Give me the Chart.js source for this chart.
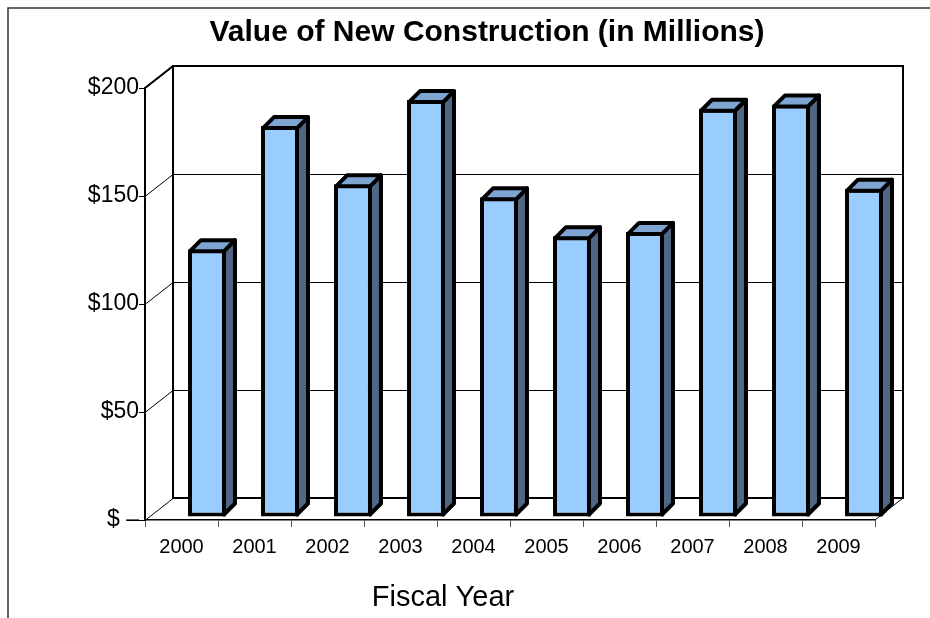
<!DOCTYPE html>
<html>
<head>
<meta charset="utf-8">
<script src="https://cdn.jsdelivr.net/npm/chart.js@4.4.0/dist/chart.umd.min.js"></script>
<style>
  html, body { margin: 0; padding: 0; background: #fff; }
  #wrap { width: 930px; height: 618px; position: relative; }
</style>
</head>
<body>
<div id="wrap"><canvas id="constructionChart"></canvas></div>
<script>
const years = ['2000', '2001', '2002', '2003', '2004', '2005', '2006', '2007', '2008', '2009'];
const values = [124, 181, 154, 193, 148, 130, 132, 189, 191, 152];
const yTickValues = [0, 50, 100, 150, 200];
const yTickLabels = ['$ –', '$50', '$100', '$150', '$200'];

const chartTitle = 'Value of New Construction (in Millions)';
const xTitle = 'Fiscal Year';
const FONT = '"Liberation Sans", Arial, sans-serif';

// how far the back wall sits behind the front plane
const wallDepth = { x: 28, y: -22 };
// bars stand a little behind the front edge of the floor
const barShift = { x: 25.5, y: -3 };
// depth of each column (side and top faces)
const colDepth = { x: 11, y: -11 };

const pseudo3d = {
  id: 'pseudo3d',
  beforeDatasetsDraw(chart) {
    const { ctx, chartArea: a, scales: { y } } = chart;
    const dx = wallDepth.x, dy = wallDepth.y;
    ctx.save();
    ctx.strokeStyle = '#000';

    // gridlines on the back wall plus their diagonals on the side wall
    ctx.lineWidth = 1;
    yTickValues.forEach(v => {
      const py = Math.round(y.getPixelForValue(v)) + 0.5;
      ctx.beginPath();
      ctx.moveTo(a.left, py);
      ctx.lineTo(a.left + dx, py + dy);
      if (v > 0 && v < 200) ctx.lineTo(a.right + dx, py + dy);
      ctx.stroke();
    });
    // floor right diagonal
    ctx.beginPath();
    ctx.moveTo(a.right, a.bottom);
    ctx.lineTo(a.right + dx, a.bottom + dy);
    ctx.stroke();

    // back wall outline
    ctx.lineWidth = 2;
    ctx.strokeRect(a.left + dx, a.top + dy, a.right - a.left, a.bottom - a.top);
    ctx.beginPath();
    ctx.moveTo(a.left, a.top);
    ctx.lineTo(a.left + dx, a.top + dy);
    ctx.stroke();
    ctx.restore();

    ctx.save();
    ctx.translate(barShift.x, barShift.y);
  },
  afterDatasetsDraw(chart) {
    const { ctx } = chart;
    const meta = chart.getDatasetMeta(0);
    ctx.lineWidth = 4;
    ctx.lineJoin = 'round';
    ctx.strokeStyle = '#000';
    meta.data.forEach(bar => {
      const p = bar.getProps(['x', 'y', 'base', 'width'], true);
      const l = p.x - p.width / 2 + 2, r = p.x + p.width / 2 - 2;
      const t = p.y + 2, b = p.base - 2;
      const dx = colDepth.x, dy = colDepth.y;
      // side face
      ctx.fillStyle = '#4f6685';
      ctx.beginPath();
      ctx.moveTo(r, t);
      ctx.lineTo(r + dx, t + dy);
      ctx.lineTo(r + dx, b + dy);
      ctx.lineTo(r, b);
      ctx.closePath();
      ctx.fill();
      ctx.stroke();
      // top face
      ctx.fillStyle = '#7ea5d2';
      ctx.beginPath();
      ctx.moveTo(l, t);
      ctx.lineTo(l + dx, t + dy);
      ctx.lineTo(r + dx, t + dy);
      ctx.lineTo(r, t);
      ctx.closePath();
      ctx.fill();
      ctx.stroke();
    });
    ctx.restore();
  },
  afterDraw(chart) {
    const { ctx } = chart;
    ctx.save();
    // outer frame
    ctx.strokeStyle = '#333';
    ctx.lineWidth = 1.5;
    ctx.beginPath();
    ctx.moveTo(8, 618);
    ctx.lineTo(8, 8);
    ctx.lineTo(930, 8);
    ctx.stroke();

    ctx.fillStyle = '#000';
    ctx.textAlign = 'center';
    ctx.textBaseline = 'middle';
    ctx.font = 'bold 30px ' + FONT;
    ctx.fillText(chartTitle, 487, 33);
    ctx.font = '29px ' + FONT;
    ctx.fillText(xTitle, 443, 598);
    ctx.restore();
  }
};

new Chart(document.getElementById('constructionChart'), {
  type: 'bar',
  data: {
    labels: years,
    datasets: [{
      data: values,
      backgroundColor: '#99ccff',
      borderColor: '#000',
      borderWidth: 4,
      borderSkipped: false,
      categoryPercentage: 1,
      barPercentage: 0.52,
      clip: false
    }]
  },
  options: {
    responsive: true,
    maintainAspectRatio: false,
    animation: false,
    layout: { padding: { top: 88, right: 55, bottom: 0, left: 0 } },
    plugins: {
      legend: { display: false },
      tooltip: { enabled: false }
    },
    scales: {
      x: {
        afterFit: s => { s.height = 98; },
        grid: { offset: true, drawOnChartArea: false, tickLength: 7, color: '#555', lineWidth: 1 },
        border: { color: '#000', width: 1.5 },
        ticks: { color: '#000', font: { family: FONT, size: 20 }, padding: 8 }
      },
      y: {
        min: 0,
        max: 200,
        afterFit: s => { s.width = 145; },
        afterBuildTicks: s => { s.ticks = yTickValues.map(v => ({ value: v })); },
        grid: { drawOnChartArea: false, tickLength: 6, color: '#000', lineWidth: 1 },
        border: { color: '#000', width: 2 },
        ticks: {
          color: '#000',
          padding: 0,
          font: { family: FONT, size: 23 },
          callback: v => yTickLabels[yTickValues.indexOf(v)]
        }
      }
    }
  },
  plugins: [pseudo3d]
});
</script>
</body>
</html>
